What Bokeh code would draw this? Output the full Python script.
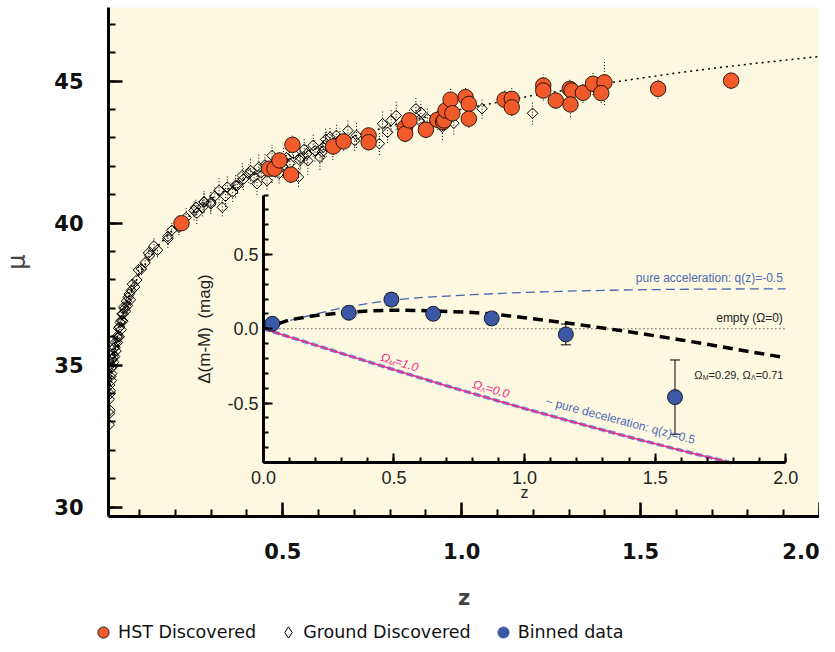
import numpy as np
from bokeh.plotting import figure
from bokeh.layouts import column
from bokeh.models import (Range1d, LinearAxis, FixedTicker, Legend, LegendItem,
                          Whisker, TeeHead, ColumnDataSource, Label)
from bokeh.embed import file_html
from bokeh.resources import INLINE

# ---------------- data ----------------
# HST-discovered SNe (z, distance modulus, error)
hst_z = [0.217, 0.462, 0.477, 0.491, 0.523, 0.527, 0.641, 0.670, 0.740, 0.740,
         0.842, 0.842, 0.854, 0.900, 0.932, 0.948, 0.951, 0.955, 0.969, 0.974,
         1.011, 1.020, 1.020, 1.120, 1.140, 1.140, 1.228, 1.228, 1.263, 1.302,
         1.307, 1.304, 1.339, 1.367, 1.399, 1.390, 1.549, 1.753]
hst_mu = [40.00, 41.92, 41.92, 42.21, 41.71, 42.76, 42.70, 42.88, 43.09, 42.85,
          43.38, 43.15, 43.62, 43.29, 43.64, 43.56, 43.62, 43.97, 44.35, 43.87,
          44.44, 44.20, 43.68, 44.35, 44.38, 44.08, 44.85, 44.67, 44.32, 44.73,
          44.67, 44.18, 44.59, 44.91, 44.96, 44.58, 44.73, 45.02]
hst_err = [0.20, 0.25, 0.30, 0.28, 0.30, 0.35, 0.30, 0.32, 0.30, 0.28,
           0.35, 0.30, 0.40, 0.30, 0.35, 0.30, 0.32, 0.38, 0.40, 0.30,
           0.35, 0.30, 0.32, 0.35, 0.40, 0.30, 0.38, 0.35, 0.30, 0.35,
           0.32, 0.45, 0.35, 0.40, 0.80, 0.35, 0.35, 0.30]

# Ground-discovered SNe
gnd_z = [0.015, 0.016, 0.015, 0.016, 0.017, 0.017, 0.018, 0.019, 0.020, 0.021,
         0.021, 0.022, 0.023, 0.024, 0.025, 0.026, 0.027, 0.028, 0.030, 0.031,
         0.032, 0.034, 0.036, 0.038, 0.040, 0.041, 0.043, 0.044, 0.046, 0.048,
         0.049, 0.051, 0.053, 0.054, 0.056, 0.058, 0.060, 0.063, 0.066, 0.068,
         0.071, 0.074, 0.077, 0.080, 0.086, 0.092, 0.097, 0.105, 0.115, 0.125,
         0.128, 0.140, 0.150, 0.179, 0.179, 0.190, 0.210, 0.230, 0.252, 0.257,
         0.260, 0.276, 0.280, 0.280, 0.299, 0.299, 0.310, 0.322, 0.331, 0.340,
         0.345, 0.360, 0.368, 0.373, 0.387, 0.390, 0.405, 0.410, 0.420, 0.428,
         0.433, 0.440, 0.450, 0.456, 0.470, 0.470, 0.480, 0.490, 0.500, 0.502,
         0.510, 0.520, 0.530, 0.544, 0.548, 0.550, 0.560, 0.567, 0.570, 0.585,
         0.590, 0.604, 0.610, 0.613, 0.620, 0.622, 0.632, 0.640, 0.650, 0.660,
         0.682, 0.701, 0.706, 0.770, 0.779, 0.793, 0.803, 0.817, 0.872, 0.881,
         0.886, 0.904, 0.946, 0.978, 1.057, 1.198]
gnd_mu = [32.90, 33.30, 33.80, 34.30, 33.41, 33.99, 34.10, 34.60, 34.90, 34.46,
          34.93, 34.70, 35.20, 34.95, 35.40, 35.28, 35.10, 35.60, 35.30, 35.63,
          35.80, 35.50, 36.00, 35.80, 35.99, 36.30, 36.00, 36.34, 36.50, 36.25,
          36.57, 36.80, 36.55, 36.81, 37.05, 36.99, 36.90, 37.25, 37.10, 37.39,
          37.50, 37.30, 37.63, 37.85, 37.75, 38.00, 38.35, 38.39, 38.60, 38.95,
          38.86, 39.20, 39.05, 39.45, 39.53, 39.75, 39.85, 40.20, 40.45, 40.56,
          40.35, 40.56, 40.75, 40.74, 40.68, 40.74, 40.95, 41.15, 40.56, 40.95,
          41.27, 41.10, 41.33, 41.33, 41.68, 41.55, 41.74, 41.85, 41.62, 41.39,
          41.97, 41.78, 42.05, 41.50, 41.88, 42.38, 42.02, 41.75, 42.00, 42.21,
          42.30, 42.10, 42.45, 41.62, 42.21, 42.30, 42.60, 42.44, 42.20, 42.74,
          42.55, 42.32, 42.50, 42.68, 42.95, 42.80, 43.03, 42.70, 43.09, 42.95,
          43.26, 42.91, 43.09, 42.80, 43.50, 43.20, 43.62, 43.79, 44.03, 43.62,
          43.91, 43.68, 43.38, 43.52, 44.03, 43.87]
gnd_err = [0.15, 0.18, 0.20, 0.16, 0.22, 0.18, 0.20, 0.17, 0.22, 0.19,
           0.16, 0.21, 0.18, 0.20, 0.17, 0.23, 0.19, 0.16, 0.21, 0.18,
           0.20, 0.17, 0.22, 0.19, 0.18, 0.21, 0.16, 0.20, 0.18, 0.22,
           0.19, 0.17, 0.21, 0.18, 0.20, 0.16, 0.22, 0.19, 0.17, 0.21,
           0.18, 0.22, 0.20, 0.19, 0.23, 0.21, 0.25, 0.22, 0.26, 0.24,
           0.28, 0.30, 0.25, 0.32, 0.28, 0.30, 0.27, 0.33, 0.35, 0.30,
           0.38, 0.32, 0.40, 0.35, 0.30, 0.42, 0.36, 0.45, 0.32, 0.38,
           0.40, 0.35, 0.42, 0.30, 0.45, 0.38, 0.33, 0.48, 0.36, 0.40,
           0.44, 0.35, 0.40, 0.32, 0.46, 0.38, 0.42, 0.35, 0.40, 0.44,
           0.36, 0.48, 0.40, 0.34, 0.45, 0.38, 0.42, 0.36, 0.50, 0.40,
           0.38, 0.44, 0.36, 0.42, 0.40, 0.46, 0.35, 0.48, 0.40, 0.38,
           0.42, 0.36, 0.44, 0.40, 0.45, 0.38, 0.42, 0.50, 0.40, 0.44,
           0.38, 0.42, 0.45, 0.40, 0.35, 0.40]

# dotted model curve in the main panel
model_z = [0.013, 0.015, 0.02, 0.03, 0.04, 0.05, 0.07, 0.1, 0.15, 0.2, 0.3, 0.4,
           0.5, 0.6, 0.7, 0.8, 0.9, 1.0, 1.2, 1.4, 1.6, 1.8, 2.0]
model_mu = [33.66, 33.97, 34.60, 35.49, 36.15, 36.65, 37.40, 38.24, 39.18, 39.87,
            40.86, 41.60, 42.18, 42.66, 43.07, 43.42, 43.73, 44.01, 44.50, 44.92,
            45.29, 45.60, 45.87]

# inset: binned residuals
bin_z = [0.034, 0.327, 0.490, 0.650, 0.874, 1.158, 1.576]
bin_dm = [0.034, 0.108, 0.197, 0.101, 0.070, -0.038, -0.460]
bin_err = [0.03, 0.035, 0.04, 0.035, 0.04, 0.07, 0.25]

# inset: model curves
lcdm_z = [0, 0.1, 0.2, 0.3, 0.4, 0.5, 0.6, 0.7, 0.8, 0.9, 1.0, 1.2, 1.4, 1.6, 1.8, 2.0]
lcdm_dm = [0, 0.060, 0.090, 0.108, 0.120, 0.125, 0.123, 0.117, 0.110, 0.095, 0.075,
           0.030, -0.020, -0.075, -0.135, -0.195]
acc_z = [0, 0.1, 0.2, 0.3, 0.4, 0.5, 0.6, 0.8, 1.0, 1.2, 1.4, 1.6, 1.8, 2.0]
acc_dm = [0, 0.055, 0.100, 0.140, 0.170, 0.195, 0.210, 0.230, 0.245, 0.255, 0.262,
          0.266, 0.268, 0.269]
eds_z = [0, 0.1, 0.2, 0.3, 0.4, 0.5, 0.6, 0.7, 0.8, 0.9, 1.0, 1.2, 1.4, 1.6, 1.8]
eds_dm = [0, -0.055, -0.110, -0.166, -0.221, -0.276, -0.330, -0.383, -0.435, -0.486,
          -0.537, -0.634, -0.729, -0.819, -0.906]
dec_dm = [0, -0.055, -0.110, -0.166, -0.221, -0.276, -0.330, -0.383, -0.435, -0.486,
          -0.537, -0.634, -0.729, -0.819, -0.906]
empty_z = [0.0, 2.0]
empty_dm = [0.0, 0.0]

# ticks
main_xticks = [0.5, 1.0, 1.5, 2.0]
main_xlabels = ["0.5", "1.0", "1.5", "2.0"]
main_yticks = [30, 35, 40, 45]
main_ylabels = ["30", "35", "40", "45"]
ins_xticks = [0.0, 0.5, 1.0, 1.5, 2.0]
ins_xlabels = ["0.0", "0.5", "1.0", "1.5", "2.0"]
ins_yticks = [-0.5, 0.0, 0.5]
ins_ylabels = ["-0.5", "0.0", "0.5"]

# legend entries
legend_labels = ["HST Discovered", "Ground Discovered", "Binned data"]

# ---------------- styling ----------------
CREAM = "#fdf9e1"
HST_COLOR = "#f15a2b"
BIN_COLOR = "#3d57a7"
MAGENTA = "#f0288c"
BLUE_LINE = "#4563b3"
BLUE_TEXT = "#4e68b4"

p = figure(width=819, height=616, x_range=Range1d(0.013, 2.0), y_range=Range1d(29.67, 47.595),
           output_backend="svg", toolbar_location=None,
           min_border_left=103, min_border_right=0, min_border_top=7, min_border_bottom=100,
           background_fill_color=CREAM, border_fill_color="white", outline_line_color=None)
p.xgrid.visible = False
p.ygrid.visible = False

xa = p.xaxis[0]
ya = p.yaxis[0]
xa.ticker = FixedTicker(ticks=main_xticks, minor_ticks=[round(0.1 * i, 1) for i in range(1, 21)])
ya.ticker = FixedTicker(ticks=main_yticks, minor_ticks=list(range(30, 48)))
xa.major_label_overrides = dict(zip(main_xticks, main_xlabels))
ya.major_label_overrides = dict(zip(main_yticks, main_ylabels))
for ax in (xa, ya):
    ax.axis_line_width = 3
    ax.axis_line_color = "black"
    ax.major_tick_in = 14
    ax.major_tick_out = 0
    ax.minor_tick_in = 7
    ax.minor_tick_out = 0
    ax.major_tick_line_width = 2.5
    ax.minor_tick_line_width = 2
    ax.major_tick_line_color = "black"
    ax.minor_tick_line_color = "black"
    ax.major_label_text_font = "DejaVu Sans"
    ax.major_label_text_font_style = "bold"
    ax.major_label_text_font_size = "21px"
    ax.major_label_text_color = "#111111"
xa.major_label_standoff = 26
ya.major_label_standoff = 25
xa.axis_label = "z"
xa.axis_label_text_font = "DejaVu Sans"
xa.axis_label_text_font_style = "bold"
xa.axis_label_text_font_size = "21px"
xa.axis_label_standoff = 24
ya.axis_label = "μ"
ya.axis_label_text_font = "DejaVu Sans"
ya.axis_label_text_font_style = "normal"
ya.axis_label_text_font_size = "24px"
ya.axis_label_standoff = 20

# ---------------- main panel glyphs ----------------
src_gnd = ColumnDataSource(dict(z=gnd_z, mu=gnd_mu,
                                lo=[m - e for m, e in zip(gnd_mu, gnd_err)],
                                hi=[m + e for m, e in zip(gnd_mu, gnd_err)]))
src_hst = ColumnDataSource(dict(z=hst_z, mu=hst_mu,
                                lo=[m - e for m, e in zip(hst_mu, hst_err)],
                                hi=[m + e for m, e in zip(hst_mu, hst_err)]))

p.segment(x0="z", y0="lo", x1="z", y1="hi", source=src_gnd, line_color="black",
          line_width=1, line_dash="1 2")
p.segment(x0="z", y0="lo", x1="z", y1="hi", source=src_hst, line_color="black",
          line_width=1, line_dash="1 2")
p.line(model_z, model_mu, line_color="black", line_width=1.5, line_dash="2 4")
r_gnd = p.scatter("z", "mu", source=src_gnd, marker="square", size=7.5, angle=np.pi / 4,
                  fill_color=None, line_color="black", line_width=1)
r_hst = p.scatter("z", "mu", source=src_hst, marker="circle", size=15.5,
                  fill_color=HST_COLOR, line_color="black", line_width=0.8)

# ---------------- inset (own ranges mapped onto the same frame) ----------------
p.extra_x_ranges = {"ix": Range1d(-0.5932, 2.1293)}
p.extra_y_ranges = {"iy": Range1d(-1.2640, 2.1636)}
IN = dict(x_range_name="ix", y_range_name="iy")

p.line(empty_z, empty_dm, line_color="black", line_width=1, line_dash="1 3", **IN)
p.line(eds_z, dec_dm, line_color="#6f8fd0", line_width=3.5, line_dash="7 3", **IN)
p.line(eds_z, eds_dm, line_color=MAGENTA, line_width=1.5, **IN)
p.line(acc_z, acc_dm, line_color=BLUE_LINE, line_width=1.3, line_dash="9 5", **IN)
p.line(lcdm_z, lcdm_dm, line_color="black", line_width=3.5, line_dash="10 6", **IN)

src_bin = ColumnDataSource(dict(z=bin_z, dm=bin_dm,
                                lo=[d - e for d, e in zip(bin_dm, bin_err)],
                                hi=[d + e for d, e in zip(bin_dm, bin_err)]))
wk = Whisker(base="z", lower="lo", upper="hi", source=src_bin, line_color="black", line_width=1,
             upper_head=TeeHead(size=10, line_width=1, line_color="black"),
             lower_head=TeeHead(size=10, line_width=1, line_color="black"),
             level="underlay", **IN)
p.add_layout(wk)
r_bin = p.scatter("z", "dm", source=src_bin, marker="circle", size=15,
                  fill_color=BIN_COLOR, line_color="black", line_width=0.8, **IN)

INSET_FONT = "Liberation Sans"
iax = LinearAxis(fixed_location=-0.9, bounds=(0, 2),
                 ticker=FixedTicker(ticks=ins_xticks, minor_ticks=[round(0.1 * i, 1) for i in range(0, 21)]),
                 major_label_overrides=dict(zip(ins_xticks, ins_xlabels)),
                 axis_label="z", **IN)
iay = LinearAxis(fixed_location=0, bounds=(-0.9, 0.9),
                 ticker=FixedTicker(ticks=ins_yticks, minor_ticks=[round(0.1 * i, 1) for i in range(-9, 10)]),
                 major_label_overrides=dict(zip(ins_yticks, ins_ylabels)),
                 axis_label="Δ(m-M)\u2002(mag)", **IN)
for ax in (iax, iay):
    ax.axis_line_width = 3
    ax.axis_line_color = "black"
    ax.major_tick_in = 9
    ax.major_tick_out = 0
    ax.minor_tick_in = 5
    ax.minor_tick_out = 0
    ax.major_tick_line_width = 2
    ax.minor_tick_line_width = 2
    ax.major_label_text_font = INSET_FONT
    ax.major_label_text_font_size = "18px"
    ax.major_label_text_color = "#222222"
    ax.axis_label_text_font = INSET_FONT
    ax.axis_label_text_font_style = "normal"
    ax.axis_label_text_color = "#222222"
iax.major_label_standoff = 9
iay.major_label_standoff = 5
iax.axis_label_text_font_size = "16px"
iax.axis_label_standoff = -4
iay.axis_label_text_font_size = "17px"
iay.axis_label_standoff = 10
p.add_layout(iax, "below")
p.add_layout(iay, "left")


def add_label(x, y, text, size, color, angle=0.0, align="left", baseline="middle",
              style="normal", xo=0.0, yo=0.0):
    p.add_layout(Label(x=x, y=y, text=text, x_offset=xo, y_offset=yo, angle=angle,
                       text_align=align, text_baseline=baseline, text_font=INSET_FONT,
                       text_font_size=f"{size}px", text_color=color,
                       text_font_style=style, **IN))


def add_rich(x, y, pieces, angle, color, style="normal", anchor="center"):
    # pieces: (text, font px, advance px, subscript drop px)
    total = sum(pc[2] for pc in pieces)
    ca, sa = np.cos(angle), np.sin(angle)
    s = -total / 2 if anchor == "center" else 0.0
    for t, sz, w, d in pieces:
        add_label(x, y, t, sz, color, angle, "left", "alphabetic", style,
                  s * ca + d * sa, s * sa - d * ca)
        s += w


add_label(1.989, 0.345, "pure acceleration: q(z)=-0.5", 12, BLUE_TEXT, align="right")
add_label(1.989, 0.076, "empty (Ω=0)", 12, "#222222", align="right")
add_rich(1.650, -0.310, [("Ω", 11, 8.4, 0), ("M", 7, 5.8, 3), ("=0.29, Ω", 11, 42.4, 0),
                         ("Λ", 7, 4.7, 3), ("=0.71", 11, 27.8, 0)],
         0.0, "#222222", anchor="left")
add_rich(0.52, -0.225, [("Ω", 12, 9.0, 0), ("M", 7, 5.8, 3), ("=1.0", 12, 23.0, 0)],
         -0.298, MAGENTA, style="italic")
add_rich(0.87, -0.405, [("Ω", 12, 9.0, 0), ("Λ", 7, 4.7, 3), ("=0.0", 12, 23.0, 0)],
         -0.281, MAGENTA, style="italic")
add_label(1.367, -0.617, "~ pure deceleration: q(z)=0.5", 12, BLUE_TEXT, angle=-0.258,
          align="center")

# ---------------- legend strip (separate small figure under the plot) ----------------
leg = figure(width=819, height=30, x_range=Range1d(0, 1), y_range=Range1d(0, 1),
             output_backend="svg", toolbar_location=None, x_axis_type=None, y_axis_type=None,
             min_border=0, min_border_left=0, min_border_right=0, min_border_top=0,
             min_border_bottom=0, outline_line_color=None, background_fill_color="white",
             border_fill_color="white", frame_align=False)
p.frame_align = False
# legend swatches only (kept outside the strip's visible range)
lg_src = ColumnDataSource(dict(x=[-1.0], y=[-1.0]))
lg_hst = leg.scatter("x", "y", source=lg_src, marker="circle", size=15, fill_color=HST_COLOR,
                     line_color="black", line_width=0.8)
lg_gnd = leg.scatter("x", "y", source=lg_src, marker="diamond", size=11,
                     fill_color=None, line_color="black", line_width=1)
lg_bin = leg.scatter("x", "y", source=lg_src, marker="circle", size=15, fill_color=BIN_COLOR,
                     line_color=BIN_COLOR, line_width=0.8)
legend = Legend(items=[LegendItem(label=legend_labels[0], renderers=[lg_hst]),
                       LegendItem(label=legend_labels[1], renderers=[lg_gnd]),
                       LegendItem(label=legend_labels[2], renderers=[lg_bin])],
                orientation="horizontal", location=(89, 0),
                glyph_width=28, glyph_height=28, label_standoff=1, spacing=18,
                padding=0, margin=0, background_fill_alpha=0, border_line_color=None,
                label_text_font="DejaVu Sans", label_text_font_size="17.5px",
                label_text_color="#111111")
leg.add_layout(legend)

open("out.html", "w").write(file_html(column(p, leg), INLINE))
